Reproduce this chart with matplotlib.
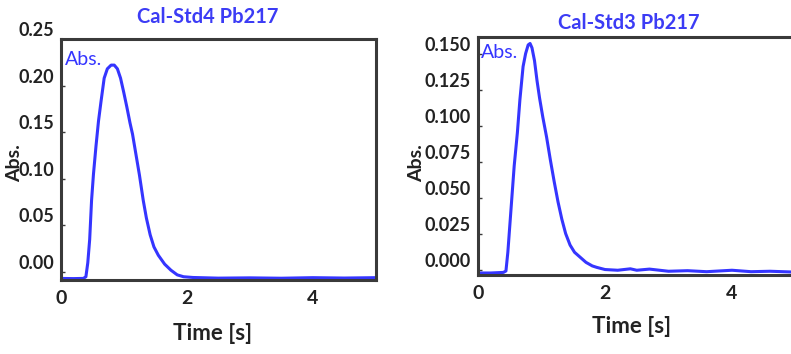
import matplotlib
matplotlib.use("Agg")
import matplotlib.pyplot as plt

plt.rcParams['font.family'] = ['Lato', 'DejaVu Sans']

# ---- data ----
titles = ["Cal-Std4 Pb217", "Cal-Std3 Pb217"]
x_label = "Time [s]"
y_label = "Abs."
legend_label = "Abs."

t_std4 = [0.0, 0.2, 0.36, 0.40, 0.43, 0.46, 0.49, 0.52, 0.56, 0.60, 0.64, 0.69, 0.74,
          0.80, 0.85, 0.90, 0.95, 1.00, 1.05, 1.10, 1.14, 1.20, 1.25, 1.31, 1.36, 1.42,
          1.48, 1.55, 1.65, 1.75, 1.85, 1.95, 2.1, 2.5, 3.0, 3.5, 4.0, 4.5, 5.0]
abs_std4 = [-0.0068, -0.007, -0.0068, -0.005, 0.01, 0.035, 0.077, 0.105, 0.135, 0.162,
            0.183, 0.208, 0.218, 0.222, 0.222, 0.218, 0.208, 0.193, 0.177, 0.160, 0.148,
            0.124, 0.104, 0.077, 0.058, 0.040, 0.027, 0.018, 0.0085, 0.002, -0.003,
            -0.005, -0.0058, -0.0065, -0.0062, -0.0066, -0.006, -0.0064, -0.006]

t_std3 = [0.0, 0.2, 0.40, 0.44, 0.47, 0.50, 0.53, 0.57, 0.62, 0.66, 0.71, 0.75, 0.79,
          0.82, 0.85, 0.89, 0.93, 0.97, 1.02, 1.08, 1.14, 1.20, 1.26, 1.32, 1.38, 1.45,
          1.52, 1.61, 1.70, 1.80, 1.87, 2.0, 2.2, 2.4, 2.5, 2.7, 3.0, 3.3, 3.6, 4.0,
          4.3, 4.6, 5.0]
abs_std3 = [-0.0024, -0.0024, -0.002, -0.001, 0.012, 0.030, 0.048, 0.072, 0.095, 0.118,
            0.141, 0.150, 0.156, 0.157, 0.154, 0.145, 0.131, 0.119, 0.106, 0.092, 0.076,
            0.061, 0.047, 0.035, 0.025, 0.017, 0.012, 0.0085, 0.005, 0.0025, 0.0015,
            0.0, -0.0005, 0.0005, -0.0005, 0.0003, -0.0012, -0.0008, -0.0015, -0.0005,
            -0.0015, -0.0012, -0.0018]

x_ticks = [0, 2, 4]
y_ticks_std4 = [0.00, 0.05, 0.10, 0.15, 0.20, 0.25]
y_ticks_std3 = [0.000, 0.025, 0.050, 0.075, 0.100, 0.125, 0.150]

# ---- style ----
W, H = 791, 354
LINE = '#3535ff'
TITLE = '#3c3cf5'
TXT = '#222222'
SPINE = '#3a3a3a'

fig = plt.figure(figsize=(W / 100, H / 100), dpi=100)

panels = [
    dict(rect=[60.7 / W, (H - 280) / H, 315 / W, 241 / H], t=t_std4, y=abs_std4,
         yticks=y_ticks_std4, fmt="{:.2f}", ylim=(-0.0085, 0.25), title=titles[0],
         title_xy=(0.468, 1.092), ylab_xy=(-0.145, 0.485), xlab_xy=(0.483, -0.22),
         abs_xy=(0.012, 0.915)),
    dict(rect=[478 / W, (H - 275) / H, 317.5 / W, 238 / H], t=t_std3, y=abs_std3,
         yticks=y_ticks_std3, fmt="{:.3f}", ylim=(-0.0038, 0.1615), title=titles[1],
         title_xy=(0.475, 1.058), ylab_xy=(-0.192, 0.47), xlab_xy=(0.485, -0.218),
         abs_xy=(0.008, 0.935)),
]

for p in panels:
    ax = fig.add_axes(p['rect'])
    ax.plot(p['t'], p['y'], color=LINE, lw=2.2, solid_joinstyle='round')
    ax.set_xlim(0, 5)
    ax.set_ylim(*p['ylim'])
    ax.set_xticks(x_ticks)
    ax.set_xticklabels([str(v) for v in x_ticks])
    ax.set_yticks(p['yticks'])
    ax.set_yticklabels([p['fmt'].format(v) for v in p['yticks']])
    for lab in ax.get_yticklabels():
        lab.set_va('bottom')
        lab.set_fontweight('bold')
    for lab in ax.get_xticklabels():
        lab.set_fontweight('bold')
    ax.tick_params(axis='x', length=0, pad=7, labelsize=14, labelcolor=TXT)
    ax.tick_params(axis='y', direction='in', length=3, width=1, color=SPINE,
                   pad=5, labelsize=13, labelcolor=TXT)
    for s in ax.spines.values():
        s.set_color(SPINE)
        s.set_linewidth(2.2)
    ax.set_title(p['title'], color=TITLE, fontsize=14.5, fontweight='bold', pad=0,
                 x=p['title_xy'][0], y=p['title_xy'][1], va='center')
    ax.set_xlabel(x_label, fontsize=16, fontweight='bold', color=TXT, va='center')
    ax.xaxis.set_label_coords(*p['xlab_xy'])
    ax.set_ylabel(y_label, fontsize=14, fontweight='bold', color=TXT, va='center')
    ax.yaxis.set_label_coords(*p['ylab_xy'])
    ax.text(p['abs_xy'][0], p['abs_xy'][1], legend_label, transform=ax.transAxes,
            color=LINE, fontsize=14, va='center', ha='left')

fig.savefig('out.png', dpi=100)
